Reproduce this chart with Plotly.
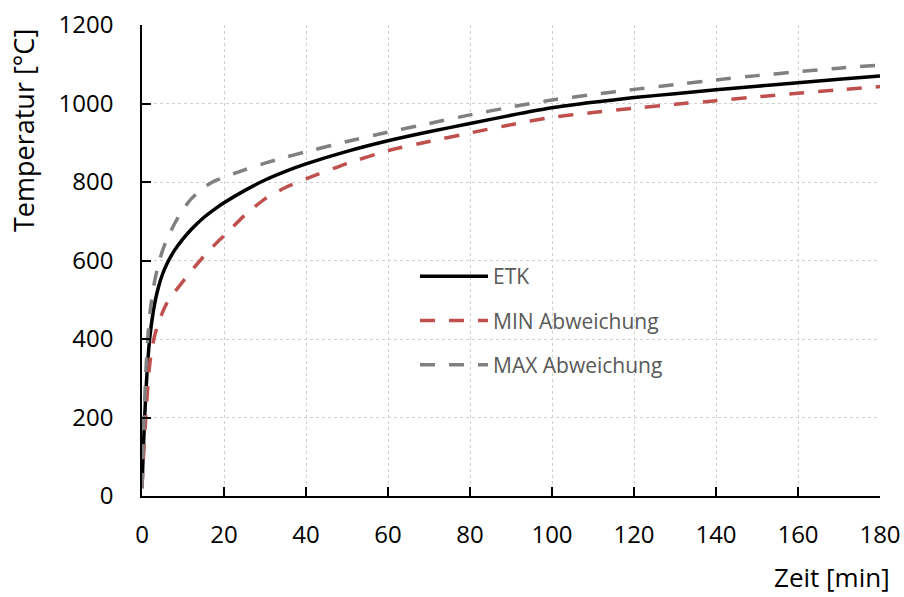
import plotly.graph_objects as go

# Zeit in Minuten
zeit_min = [0, 0.25, 0.5, 1, 1.5, 2, 3, 4, 5, 6, 8, 10, 12, 15, 18, 20, 25, 30, 35,
            40, 50, 60, 70, 80, 90, 100, 110, 120, 130, 140, 150, 160, 170, 180]

# Einheits-Temperaturzeitkurve
etk = [20, 95, 165, 275, 355, 413, 485, 532, 565, 590, 627, 655, 679, 709, 733, 747,
       778, 805, 827, 846, 878, 905, 928, 949, 970, 989, 1003, 1015, 1025, 1035,
       1044, 1053, 1062, 1070]

# untere Toleranzgrenze
min_abw = [20, 75, 125, 215, 290, 345, 405, 440, 468, 490, 520, 547, 573, 610, 643, 663,
           715, 757, 786, 808, 847, 880, 903, 925, 946, 965, 977, 988, 998, 1007,
           1017, 1026, 1035, 1043]

# obere Toleranzgrenze
max_abw = [20, 115, 200, 330, 415, 472, 543, 590, 625, 652, 695, 730, 757, 786, 804, 812,
           831, 848, 863, 877, 903, 927, 949, 971, 991, 1009, 1023, 1036, 1048, 1060,
           1071, 1081, 1090, 1098]

x_ticks = [0, 20, 40, 60, 80, 100, 120, 140, 160, 180]
y_ticks = [0, 200, 400, 600, 800, 1000, 1200]

FONT = "Open Sans"
DASH = "15px,14px"

# Ränder des Diagrammbereichs (px)
M_L, M_R, M_T, M_B = 142, 24, 25, 101
W, H = 904, 597
plot_w = W - M_L - M_R
plot_h = H - M_T - M_B

fig = go.Figure()
fig.add_trace(go.Scatter(x=zeit_min, y=etk, mode="lines", name="ETK",
                         legendgroup="a",
                         line=dict(color="#000000", width=3.5, shape="spline", smoothing=0.6)))
fig.add_trace(go.Scatter(x=zeit_min, y=min_abw, mode="lines", name="MIN Abweichung",
                         legendgroup="b",
                         line=dict(color="#C0504D", width=3.5, dash=DASH, shape="spline", smoothing=0.6)))
fig.add_trace(go.Scatter(x=zeit_min, y=max_abw, mode="lines", name="MAX Abweichung",
                         legendgroup="c",
                         line=dict(color="#808080", width=3.5, dash=DASH, shape="spline", smoothing=0.6)))

axis_common = dict(
    showline=True, linecolor="#000000", linewidth=1.5,
    ticks="inside", ticklen=9, tickwidth=1.5, tickcolor="#000000",
    showgrid=True, gridcolor="#D0D0D0", gridwidth=1, griddash="dot",
    zeroline=False, automargin=False,
    tickfont=dict(family=FONT, size=24, color="#000000"),
)

fig.update_xaxes(range=[0, 180], tickvals=x_ticks, ticktext=[str(v) for v in x_ticks],
                 ticklabelstandoff=16, **axis_common)
fig.update_yaxes(range=[0, 1200], tickvals=y_ticks, ticktext=[str(v) for v in y_ticks],
                 ticklabelstandoff=22, **axis_common)

fig.update_layout(
    width=W, height=H,
    margin=dict(l=M_L, r=M_R, t=M_T, b=M_B),
    paper_bgcolor="#FFFFFF", plot_bgcolor="#FFFFFF",
    font=dict(family=FONT, color="#000000"),
    showlegend=True,
    legend=dict(
        x=(415 - M_L) / plot_w, y=(H - M_B - 256) / plot_h,
        xanchor="left", yanchor="top",
        bgcolor="rgba(0,0,0,0)", borderwidth=0,
        font=dict(family=FONT, size=21, color="#595959"),
        itemwidth=68, tracegroupgap=14, traceorder="grouped",
    ),
    annotations=[
        dict(text="Zeit [min]",
             x=(892 - M_L) / plot_w, xref="paper", xanchor="right",
             y=(H - M_B - 577) / plot_h, yref="paper", yanchor="middle",
             showarrow=False,
             font=dict(family=FONT, size=26, color="#000000")),
        dict(text="Temperatur [°C]",
             x=(24 - M_L) / plot_w, xref="paper", xanchor="center",
             y=(H - M_B - 131) / plot_h, yref="paper", yanchor="middle",
             showarrow=False, textangle=-90,
             font=dict(family=FONT, size=27, color="#000000")),
    ],
)

fig.write_html("out.html")
